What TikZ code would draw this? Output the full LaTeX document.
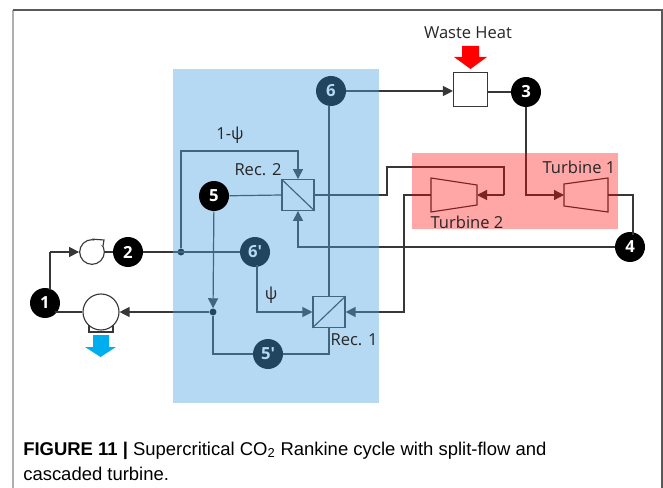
\documentclass[tikz,border=0pt]{standalone}
\usepackage{fontspec}
\setmainfont{Liberation Sans}
\newfontfamily\labelfont{Open Sans}
\usetikzlibrary{arrows.meta}
\pgfdeclarelayer{tint}
\pgfdeclarelayer{front}
\pgfsetlayers{main,tint,front}
\definecolor{framegray}{RGB}{175,175,175}
\definecolor{linegray}{RGB}{55,55,55}
\definecolor{tintblue}{RGB}{80,165,225}
\definecolor{coldblue}{RGB}{0,174,239}
\tikzset{
	state/.style={circle, fill=black, text=white, minimum size=22.5pt, inner sep=0pt, font=\labelfont\bfseries\fontsize{12.5}{14}\selectfont},
	lbl/.style={text=black!85, inner sep=0pt, font=\labelfont\fontsize{12.4}{14}\selectfont},
	pipe/.style={draw=linegray, line width=.9pt},
	flow/.style={pipe, -{Triangle[length=7.5pt,width=7.5pt]}},
	part/.style={draw=linegray, line width=.85pt, fill=white},
	dot/.style={circle, fill=black, minimum size=5.2pt, inner sep=0pt},
	hx/.style={part, minimum width=24pt, minimum height=23pt, inner sep=0pt}
}
\begin{document}
\begin{tikzpicture}[x=.75pt, y=-.75pt]
	\useasboundingbox (0,0) rectangle (663,488);
	\fill[white] (0,0) rectangle (663,488);
	% frame
	\draw[framegray, line width=1.4pt] (13,488) -- (13,10);
	\draw[black!65, line width=1.1pt] (13,10) -- (662,10) -- (662,488);
	% equipment
	\node[part, circle, minimum size=18.5pt, inner sep=0pt] (comp) at (92,252) {};
	\node[part, circle, minimum size=27pt, inner sep=0pt] (cool) at (101,312) {};
	\node[part, minimum width=25.5pt, minimum height=26pt, inner sep=0pt] (heater) at (470.5,89.5) {};
	\node[hx] (rec2) at (298,195) {};
	\node[hx] (rec1) at (329,312) {};
	\draw[part, fill=none] (rec2.north west) -- (rec2.south east);
	\draw[part, fill=none] (rec1.south west) -- (rec1.north east);
	\draw[part] (comp.north) -- (104,240) -- (103,246);
	\draw[part, fill=none] (89,325) -- (89,332) -- (113,332) -- (113,325);
	\coordinate (t2in) at (477,195);
	\coordinate (t2out) at (431,195);
	\coordinate (t1in) at (564,195);
	\coordinate (t1out) at (608,195);
	\draw[part] (431,178) -- (477,185) -- (477,205) -- (431,212) -- cycle;
	\draw[part] (564,184) -- (608,178) -- (608,212) -- (564,206) -- cycle;
	% states
	\node[state] (n1) at (45,303) {1};
	\node[state] (n2) at (128,252) {2};
	\node[state] (n3) at (526,92) {3};
	\node[state] (n4) at (630,247) {4};
	\begin{pgfonlayer}{front}
		\node[state] (n5) at (214,196) {5};
	\end{pgfonlayer}
	\node[state] (n6) at (331,91) {6};
	\node[state] (n6p) at (255,252) {6′};
	\node[state] (n5p) at (268,354) {5′};
	\node[dot] (j2) at (181,252) {};
	\node[dot] (j5) at (213,312) {};
	% pipes
	\draw[flow] (50,252) -- (comp.west);
	\draw[pipe] (50,252) -- (50,290);
	\draw[pipe] (comp.east) -- (n2);
	\draw[pipe] (n2) -- (n6p);
	\draw[flow] (j2) |- (230,151) -| (rec2.north);
	\draw[flow] (257,265) |- (rec1.west);
	\draw[flow] (n5) -- (j5);
	\draw[flow] (j5) -- (cool.east);
	\draw[pipe] (55,312) -- (cool.west);
	\draw[pipe] (j5) |- (n5p);
	\draw[pipe] (n5p) -| (rec1.south);
	\draw[pipe] (n5) -- (rec2.west);
	\draw[pipe] (rec1.north) -- (rec1.north |- n6.south);
	\draw[flow] (n6) -- (heater.west |- n6);
	\draw[pipe] (heater.east |- n3) -- (n3);
	\draw[pipe] (rec2.east) -- (387,195) -- (387,167) -- (504,167) -- (504,195);
	\draw[flow] (504,195) -- (t2in);
	\draw[flow] (t2out) -- (404,195) -- (404,312) -- (rec1.east);
	\draw[flow] (n3) |- (t1in);
	\draw[pipe] (t1out) -- (633,195) -- (633,235);
	\draw[flow] (n4) -| (rec2.south);
	% heat arrows
	\fill[red] (462,46) -- (479,46) -- (479,57) -- (487,57) -- (470.5,69) -- (454,57) -- (462,57) -- cycle;
	\fill[coldblue] (93,335) -- (109,335) -- (109,347) -- (116,347) -- (100.5,357) -- (85,347) -- (93,347) -- cycle;
	% tinted areas
	\begin{pgfonlayer}{tint}
		\fill[tintblue, opacity=.42] (173,69) rectangle (379,403);
		\fill[red, opacity=.35] (412,153) rectangle (618,229);
	\end{pgfonlayer}
	% labels
	\begin{pgfonlayer}{front}
		\node[lbl] (waste) at (468,33) {Waste Heat};
		\node[lbl] (turb1) at (579,167) {Turbine 1};
		\node[lbl] (turb2) at (467,222) {Turbine 2};
		\node[lbl] (rec2l) at (258,170) {Rec. 2};
		\node[lbl] (rec1l) at (354,340) {Rec. 1};
		\node[lbl] (split1) at (230,135) {1-ψ};
		\node[lbl] (split2) at (271,295) {ψ};
	\end{pgfonlayer}
	% caption
	\node[anchor=base west, inner sep=0pt, font=\fontsize{13.85}{16}\selectfont] (cap1) at (23,455) {\textbf{FIGURE 11 |} Supercritical CO\textsubscript{2} Rankine cycle with split-flow and};
	\node[anchor=base west, inner sep=0pt, font=\fontsize{13.85}{16}\selectfont] (cap2) at (23,480) {cascaded turbine.};
\end{tikzpicture}
\end{document}
